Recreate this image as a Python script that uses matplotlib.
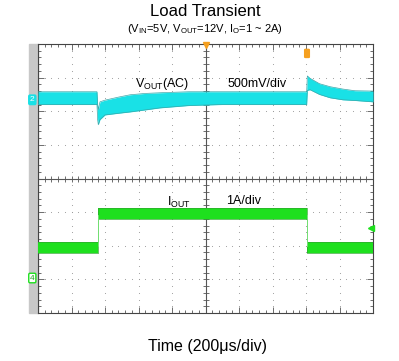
"""
Load transient scope capture: Vout (AC) and Iout traces on a 10x8 div screen.
"""
import matplotlib.pyplot as plt
import matplotlib.patches as patches
import numpy as np

plt.rcParams['font.family'] = ['Liberation Sans', 'DejaVu Sans']
plt.rcParams['mathtext.fontset'] = 'custom'
plt.rcParams['mathtext.rm'] = 'Liberation Sans'

# time in divisions (200us/div), levels in divisions (0 = bottom of screen)
vout_t = [0, 1.76, 1.78, 1.80, 1.85, 2.0, 2.4, 2.75, 3.2, 3.64, 4.5, 5.5, 7.0,
          8.02, 8.04, 8.12, 8.4, 8.72, 9.1, 9.46, 10]
vout_top = [6.58, 6.58, 6.20, 6.05, 6.28, 6.33, 6.42, 6.49, 6.53, 6.55, 6.58, 6.58, 6.58,
            6.58, 7.05, 6.98, 6.82, 6.73, 6.66, 6.61, 6.60]
vout_bot = [6.20, 6.20, 5.75, 5.60, 5.75, 5.89, 5.94, 5.98, 6.04, 6.10, 6.17, 6.20, 6.20,
            6.20, 6.62, 6.64, 6.50, 6.40, 6.34, 6.32, 6.28]

iout_t = [0, 1.78, 1.78, 8.03, 8.03, 10]
iout_top = [2.11, 2.11, 3.13, 3.13, 2.11, 2.11]
iout_bot = [1.79, 1.79, 2.80, 2.80, 1.79, 1.79]

fig = plt.figure(figsize=(3.99, 3.61), dpi=100)

# grey strip left of the screen
fig.patches.append(patches.Rectangle((29 / 399, 48 / 361), 9 / 399, 269 / 361,
                                     transform=fig.transFigure, color='#c8c8c8', zorder=-5))

ax = fig.add_axes([38 / 399, 48 / 361, 335 / 399, 269 / 361])
ax.set_xlim(0, 10)
ax.set_ylim(0, 8)
ax.patch.set_alpha(0)

# dotted graticule
sub = np.arange(0, 10.01, 0.2)
for k in range(1, 10):
    if k != 5:
        ax.scatter(np.full(41, k), np.arange(0, 8.01, 0.2), s=0.6, color='#9a9a9a', lw=0)
for k in range(1, 8):
    if k != 4:
        ax.scatter(sub, np.full(len(sub), k), s=0.6, color='#9a9a9a', lw=0)

# center cross with small ticks
ax.axvline(5, color='#555555', lw=0.8)
ax.axhline(4, color='#555555', lw=0.8)
ax.plot(sub, np.full(len(sub), 4), ls='none', marker='|', ms=4, mew=0.6, color='#555555')
ax.plot(np.full(41, 5), np.arange(0, 8.01, 0.2), ls='none', marker='_', ms=4, mew=0.6,
        color='#555555')

# border ticks
ax.set_xticks(range(11))
ax.set_yticks(range(9))
ax.set_xticks(sub, minor=True)
ax.set_yticks(np.arange(0, 8.01, 0.2), minor=True)
ax.tick_params(which='both', direction='in', top=True, right=True,
               labelbottom=False, labelleft=False, color='#555555', width=0.6)
ax.tick_params(which='major', length=4)
ax.tick_params(which='minor', length=2.5)
for s in ax.spines.values():
    s.set_color('#444444')
    s.set_linewidth(0.8)

# traces
ax.fill_between(vout_t, vout_bot, vout_top, color='#19e1e6', lw=0, zorder=3)
ax.plot(vout_t, vout_top, color='#3aa8aa', lw=0.5, zorder=3)
ax.plot(vout_t, vout_bot, color='#3aa8aa', lw=0.5, zorder=3)
ax.fill_between(iout_t, iout_bot, iout_top, color='#1ee01e', lw=0, zorder=3)
ax.plot(iout_t, iout_top, color='#2fa82f', lw=0.5, zorder=3)
ax.plot(iout_t, iout_bot, color='#2fa82f', lw=0.5, zorder=3)
ax.plot([1.78, 1.78], [2.0, 2.9], color='#7de87d', lw=0.6, zorder=3)
ax.plot([8.03, 8.03], [2.0, 2.9], color='#7de87d', lw=0.6, zorder=3)

# channel / trigger markers
ax.text(-0.17, 6.34, '2', color='white', fontsize=6, ha='center', va='center', clip_on=False,
        bbox=dict(boxstyle='round,pad=0.15', fc='#19e1e6', ec='#19e1e6'), zorder=5)
ax.text(-0.17, 1.04, '4', color='#1ea01e', fontsize=6, ha='center', va='center', clip_on=False,
        bbox=dict(boxstyle='round,pad=0.15', fc='white', ec='#1ee01e', lw=1), zorder=5)
ax.plot(9.95, 2.53, marker='<', ms=4, color='#1ee01e', clip_on=False, zorder=5)
ax.plot(5, 7.97, marker='v', ms=4, color='#f5a020', clip_on=False, zorder=5)
ax.add_patch(patches.FancyBboxPatch((7.98, 7.62), 0.1, 0.2, boxstyle='round,pad=0.02',
                                    fc='#f5a020', ec='#f5a020', zorder=5))

# labels on the screen
ax.text(2.9, 6.82, r'V$\mathregular{_{OUT}}$(AC)', fontsize=9, va='center', zorder=6)
ax.text(5.67, 6.82, '500mV/div', fontsize=9, va='center', zorder=6)
ax.text(3.85, 3.30, r'I$\mathregular{_{OUT}}$', fontsize=9, va='center', zorder=6)
ax.text(5.61, 3.33, '1A/div', fontsize=9, va='center', zorder=6)

fig.text(205 / 399, 1 - 12 / 361, 'Load Transient', fontsize=12, ha='center', va='center')
fig.text(205 / 399, 1 - 29 / 361,
         r'(V$\mathregular{_{IN}}$=5V, V$\mathregular{_{OUT}}$=12V, I$\mathregular{_{O}}$=1 ~ 2A)',
         fontsize=8, ha='center', va='center')
fig.text(207 / 399, 1 - 347 / 361, 'Time (200μs/div)', fontsize=11.5, ha='center', va='center')

fig.savefig('out.png', dpi=100)
